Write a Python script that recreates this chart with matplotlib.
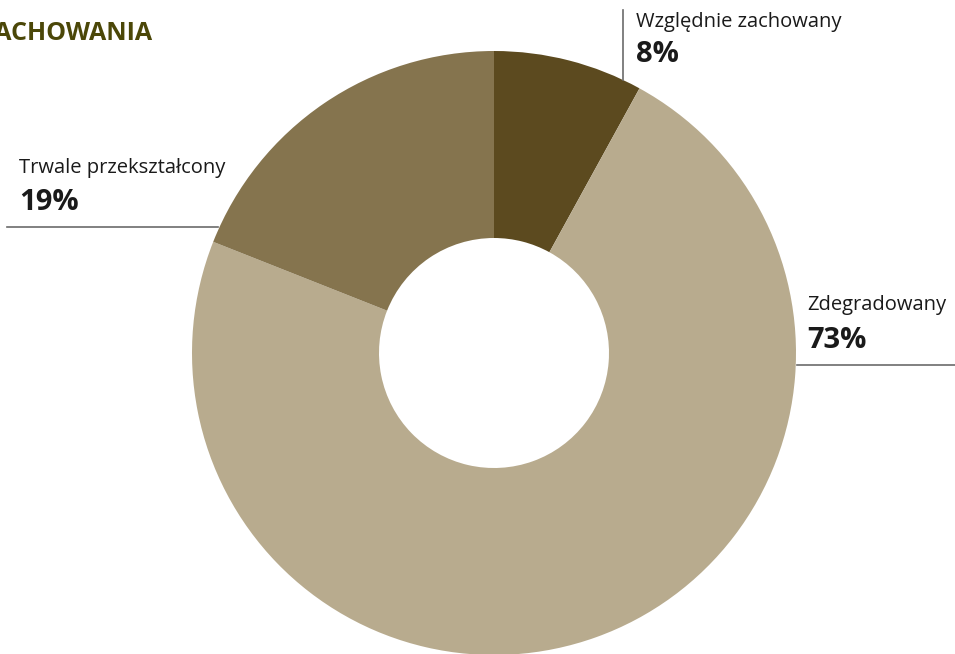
import matplotlib.pyplot as plt

# dane wykresu
kategorie = ["Względnie zachowany", "Zdegradowany", "Trwale przekształcony"]
procenty = [8, 73, 19]
kolory = ["#5c4a1f", "#b8ab8e", "#85744e"]
etykiety_proc = ["8%", "73%", "19%"]

W, H = 955, 654
fig = plt.figure(figsize=(W / 100, H / 100), dpi=100)
ax = fig.add_axes([0, 0, 1, 1])

# pierścień (współrzędne w pikselach, y od dołu)
cx, cy = 494, H - 353
r_out, r_in = 302, 115
ax.pie(procenty, colors=kolory, startangle=90, counterclock=False,
       center=(cx, cy), radius=r_out,
       wedgeprops=dict(width=r_out - r_in, linewidth=0))

ax.set_xlim(0, W)
ax.set_ylim(0, H)
ax.set_aspect("equal")
ax.axis("off")

fam = ["Open Sans", "DejaVu Sans"]
tc = "#1a1a1a"
lc = "#6b6b6b"

# tytuł (ucięty z lewej strony, jak w oryginale)
ax.text(152, H - 33, "STAN ZACHOWANIA", ha="right", va="center",
        fontsize=18, fontweight="bold", color="#4b4708", family=fam)

# Względnie zachowany
ax.plot([623, 623], [H - 10, H - 80], color=lc, lw=1.2)
ax.text(636, H - 22, kategorie[0], ha="left", va="center",
        fontsize=14.5, color=tc, family=fam)
ax.text(636, H - 55, etykiety_proc[0], ha="left", va="center",
        fontsize=21, fontweight="bold", color=tc, family=fam)

# Trwale przekształcony
ax.plot([7, 218], [H - 227, H - 227], color=lc, lw=1.2)
ax.text(19, H - 168, kategorie[2], ha="left", va="center",
        fontsize=14.5, color=tc, family=fam)
ax.text(19, H - 202, etykiety_proc[2], ha="left", va="center",
        fontsize=21, fontweight="bold", color=tc, family=fam)

# Zdegradowany
ax.plot([797, W], [H - 365, H - 365], color=lc, lw=1.2)
ax.text(807, H - 305, kategorie[1], ha="left", va="center",
        fontsize=14.5, color=tc, family=fam)
ax.text(807, H - 340, etykiety_proc[1], ha="left", va="center",
        fontsize=21, fontweight="bold", color=tc, family=fam)

fig.savefig("out.png", dpi=100)
